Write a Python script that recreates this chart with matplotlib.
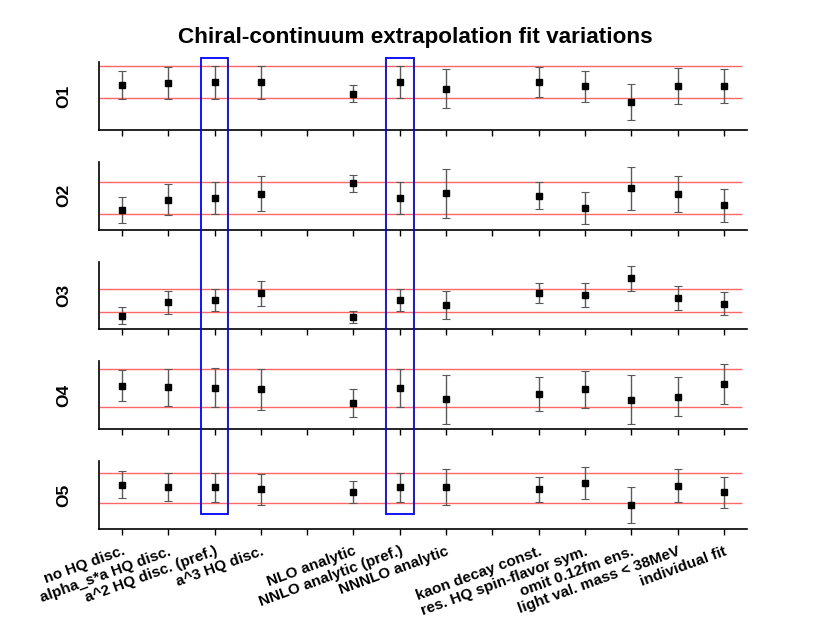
import numpy as np
from matplotlib import pyplot as plt
from matplotlib.patches import Rectangle
from matplotlib.transforms import blended_transform_factory

plt.rcParams['font.family'] = ['Liberation Sans', 'DejaVu Sans']
plt.rcParams['font.weight'] = 'bold'

# fit variations (x positions 5 and 9 are left empty as group gaps)
xpos = [1, 2, 3, 4, 6, 7, 8, 10, 11, 12, 13, 14]
labels = ["no HQ disc.", "alpha_s*a HQ disc.", "a^2 HQ disc. (pref.)", "a^3 HQ disc.",
          "NLO analytic", "NNLO analytic (pref.)", "NNNLO analytic",
          "kaon decay const.", "res. HQ spin-flavor sym.", "omit 0.12fm ens.",
          "light val. mass < 38MeV", "individual fit"]
names = ["O1", "O2", "O3", "O4", "O5"]

# central values (arbitrary units, per operator)
O1 = [0.666, 0.691, 0.700, 0.700, 0.534, 0.700, 0.607, 0.706, 0.643, 0.407, 0.647, 0.643]
O2 = [0.290, 0.441, 0.466, 0.529, 0.681, 0.466, 0.534, 0.500, 0.324, 0.607, 0.525, 0.357]
O3 = [0.201, 0.397, 0.431, 0.529, 0.181, 0.431, 0.357, 0.534, 0.504, 0.750, 0.466, 0.378]
O4 = [0.643, 0.618, 0.613, 0.588, 0.382, 0.607, 0.441, 0.519, 0.588, 0.437, 0.481, 0.662]
O5 = [0.651, 0.618, 0.613, 0.584, 0.544, 0.613, 0.613, 0.584, 0.676, 0.349, 0.637, 0.540]
# errors
E1 = [0.208, 0.235, 0.240, 0.248, 0.125, 0.235, 0.289, 0.216, 0.226, 0.269, 0.260, 0.248]
E2 = [0.189, 0.231, 0.238, 0.254, 0.125, 0.235, 0.363, 0.203, 0.235, 0.319, 0.262, 0.246]
E3 = [0.127, 0.167, 0.166, 0.184, 0.085, 0.166, 0.208, 0.149, 0.181, 0.189, 0.174, 0.171]
E4 = [0.230, 0.274, 0.282, 0.304, 0.204, 0.282, 0.363, 0.247, 0.275, 0.356, 0.282, 0.294]
E5 = [0.196, 0.213, 0.213, 0.228, 0.160, 0.215, 0.265, 0.188, 0.233, 0.262, 0.246, 0.230]
# preferred-fit band (lower, upper)
bands = [(0.466, 0.940), (0.225, 0.696), (0.260, 0.588), (0.324, 0.893), (0.382, 0.819)]

vals = [O1, O2, O3, O4, O5]
errs = [E1, E2, E3, E4, E5]
boxed = [3, 7]

fig, axes = plt.subplots(5, 1, figsize=(8.3, 6.23), dpi=100, sharex=True)
fig.subplots_adjust(left=0.119, right=0.9, top=0.9005, bottom=0.151, hspace=0.47)

for ax, name, v, e, (lo, hi) in zip(axes, names, vals, errs, bands):
    ax.hlines([lo, hi], 0.5, 14.4, color='#ff6666', lw=1, zorder=1)
    ax.errorbar(xpos, v, yerr=e, fmt='s', color='black', ms=4.5,
                ecolor='0.35', elinewidth=1, capsize=3, capthick=0.8, zorder=3)
    ax.set_xlim(0.5, 14.5)
    ax.set_ylim(0, 1)
    ax.set_yticks([])
    ax.set_ylabel(name, fontsize=12.5, fontweight='bold', labelpad=20)
    for s in ['top', 'right']:
        ax.spines[s].set_visible(False)
    ax.spines['left'].set_linewidth(1.2)
    ax.spines['bottom'].set_linewidth(1.2)
    ax.set_xticks(range(1, 15))
    ax.tick_params(axis='x', direction='out', length=4, width=1)

axes[-1].set_xticks(range(1, 15))
axes[-1].set_xticklabels([labels[xpos.index(i)] if i in xpos else "" for i in range(1, 15)],
                         rotation=20, ha='right', rotation_mode='anchor',
                         fontsize=11, fontweight='bold')
axes[-1].tick_params(axis='x', pad=7)

fig.suptitle("Chiral-continuum extrapolation fit variations", fontsize=16.2,
             fontweight='bold', y=0.94, va='center')

# highlight preferred fits across all panels
tr = blended_transform_factory(axes[0].transData, fig.transFigure)
for xb in boxed:
    fig.patches.append(Rectangle((xb - 0.3, 0.1745), 0.6, 0.733, transform=tr,
                                 fill=False, edgecolor='blue', lw=1.3, zorder=5))

plt.savefig('out.png', dpi=100)
